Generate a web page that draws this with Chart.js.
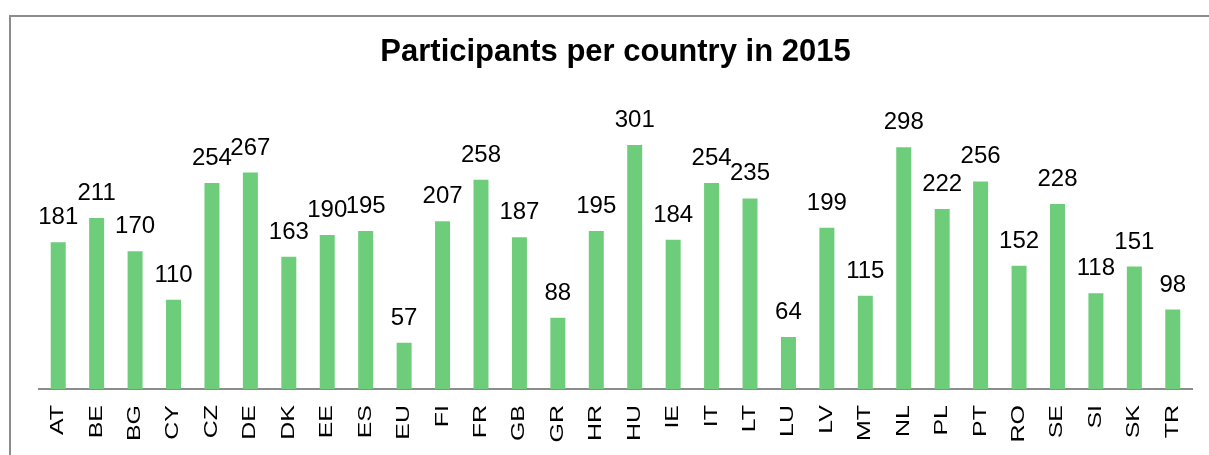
<!DOCTYPE html>
<html>
<head>
<meta charset="utf-8">
<script src="https://cdn.jsdelivr.net/npm/chart.js@4.4.1/dist/chart.umd.min.js"></script>
<style>
  html, body { margin: 0; padding: 0; background: #fff; overflow: hidden; }
  #frame {
    position: absolute; left: 9px; top: 15px; width: 1300px; height: 500px;
    border-top: 2px solid #8c8c8c; border-left: 2px solid #8c8c8c;
  }
  #wrap { position: absolute; left: 0; top: 0; width: 1209px; height: 455px; }
</style>
</head>
<body>
<div id="frame"></div>
<div id="wrap"><canvas id="barChart"></canvas></div>
<script>
// Countries (x axis categories)
const countries = ['AT', 'BE', 'BG', 'CY', 'CZ', 'DE', 'DK', 'EE', 'ES', 'EU',
                   'FI', 'FR', 'GB', 'GR', 'HR', 'HU', 'IE', 'IT', 'LT', 'LU',
                   'LV', 'MT', 'NL', 'PL', 'PT', 'RO', 'SE', 'SI', 'SK', 'TR'];

// Participants per country
const participants = [181, 211, 170, 110, 254, 267, 163, 190, 195, 57,
                      207, 258, 187, 88, 195, 301, 184, 254, 235, 64,
                      199, 115, 298, 222, 256, 152, 228, 118, 151, 98];

const chartTitle = 'Participants per country in 2015';
const fontFamily = '"Liberation Sans", Arial, sans-serif';

// Draws the value above each bar
const valueLabels = {
    id: 'valueLabels',
    afterDatasetsDraw(chart) {
        const ctx = chart.ctx;
        const meta = chart.getDatasetMeta(0);
        ctx.save();
        ctx.font = '24px ' + fontFamily;
        ctx.fillStyle = '#000';
        ctx.textAlign = 'center';
        ctx.textBaseline = 'alphabetic';
        meta.data.forEach((bar, i) => {
            ctx.fillText(String(participants[i]), bar.x, bar.y - 18);
        });
        ctx.restore();
    }
};

// Vertical category labels, a bit narrower than normal text (like the original)
const rotatedTicks = {
    id: 'rotatedTicks',
    afterDraw(chart) {
        const ctx = chart.ctx;
        const xScale = chart.scales.x;
        ctx.save();
        ctx.font = '25px ' + fontFamily;
        ctx.fillStyle = '#000';
        ctx.textAlign = 'right';
        ctx.textBaseline = 'middle';
        countries.forEach((label, i) => {
            ctx.save();
            ctx.translate(xScale.getPixelForTick(i), xScale.top + 16);
            ctx.rotate(-Math.PI / 2);
            ctx.scale(1, 0.72);
            ctx.fillText(label, 0, 0);
            ctx.restore();
        });
        ctx.restore();
    }
};

const ctx = document.getElementById('barChart').getContext('2d');
new Chart(ctx, {
    type: 'bar',
    data: {
        labels: countries,
        datasets: [{
            data: participants,
            backgroundColor: '#6dcd7b',
            borderWidth: 0,
            barPercentage: 0.39,
            categoryPercentage: 1.0
        }]
    },
    options: {
        responsive: true,
        maintainAspectRatio: false,
        animation: false,
        layout: { padding: { left: 39, right: 17, top: 20, bottom: 0 } },
        plugins: {
            legend: { display: false },
            tooltip: { enabled: false },
            title: {
                display: true,
                text: chartTitle,
                color: '#000',
                font: { family: fontFamily, size: 31, weight: 'bold' },
                padding: { top: 14, bottom: 34 }
            }
        },
        scales: {
            x: {
                grid: { display: false, drawTicks: false },
                border: { color: '#8c8c8c', width: 2 },
                ticks: { display: false, autoSkip: false },
                afterFit(scale) { scale.height = 66; }
            },
            y: {
                display: false,
                min: 0,
                max: 350
            }
        }
    },
    plugins: [valueLabels, rotatedTicks]
});
</script>
</body>
</html>
